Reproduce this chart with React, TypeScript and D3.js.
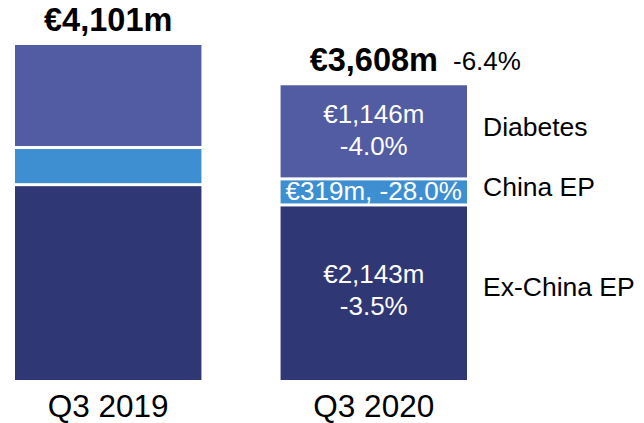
import * as d3 from "d3";

const categories = ["Q3 2019", "Q3 2020"];
const segments = ["Ex-China EP", "China EP", "Diabetes"];
// values in €m, bottom to top
const exChina = [2391, 2143];
const china = [455, 319];
const diabetes = [1255, 1146];
const totals = ["€4,101m", "€3,608m"];
const totalChange = ["", "-6.4%"];
const innerLabels = [["€2,143m", "-3.5%"], ["€319m, -28.0%"], ["€1,146m", "-4.0%"]];
const colors = ["#303775", "#3e8fd1", "#525ca2"];

const width = 644;
const height = 423;
const font = "Liberation Sans, Arial, sans-serif";

export default function App() {
  const rows = categories.map((c, i) => ({
    cat: c,
    "Ex-China EP": exChina[i],
    "China EP": china[i],
    Diabetes: diabetes[i],
  }));
  const stack = d3.stack<any>().keys(segments)(rows);
  const x = d3.scaleBand().domain(categories).range([15, 467]).paddingInner(0.298);
  const maxTotal = d3.max(rows, (r) => r["Ex-China EP"] + r["China EP"] + r.Diabetes) as number;
  const y = d3.scaleLinear([0, maxTotal], [380, 45]);
  const gap = 1.5;
  const last = categories[1];

  return (
    <svg width={width} height={height} style={{ position: "absolute", left: 0, top: 0 }} fontFamily={font}>
      {stack.map((layer, li) => (
        <g key={layer.key} fill={colors[li]}>
          {layer.map((d, i) => {
            const top = y(d[1]) + (li === segments.length - 1 ? 0 : gap);
            const bot = y(d[0]) - (li === 0 ? 0 : gap);
            return <rect key={i} x={x(categories[i])} y={top} width={x.bandwidth()} height={bot - top} />;
          })}
        </g>
      ))}

      {/* totals */}
      {categories.map((c, i) => {
        const top = y(stack[stack.length - 1][i][1]);
        return (
          <text key={c} x={x(c)! + x.bandwidth() / 2} y={top - 14} textAnchor="middle" fontSize={32.5} fontWeight="bold">
            {totals[i]}
          </text>
        );
      })}
      <text x={453} y={y(stack[stack.length - 1][1][1]) - 15} fontSize={26}>{totalChange[1]}</text>

      {/* labels inside the 2020 bar */}
      {stack.map((layer, li) => {
        const d = layer[1];
        const mid = (y(d[0]) + y(d[1])) / 2;
        const cx = x(last)! + x.bandwidth() / 2;
        const lines = innerLabels[li];
        return (
          <g key={layer.key} fill="white" fontSize={26} textAnchor="middle">
            {lines.length === 1 ? (
              <text x={cx} y={mid + 8}>{lines[0]}</text>
            ) : (
              lines.map((t, k) => (
                <text key={k} x={cx} y={mid - 9 + k * 32}>{t}</text>
              ))
            )}
          </g>
        );
      })}

      {/* segment names on the right */}
      {stack.map((layer) => {
        const d = layer[1];
        const mid = (y(d[0]) + y(d[1])) / 2;
        return (
          <text key={layer.key} x={483} y={mid + 4} fontSize={26.5}>{layer.key}</text>
        );
      })}

      {/* category labels */}
      {categories.map((c) => (
        <text key={c} x={x(c)! + x.bandwidth() / 2} y={417} textAnchor="middle" fontSize={31.5}>{c}</text>
      ))}
    </svg>
  );
}
